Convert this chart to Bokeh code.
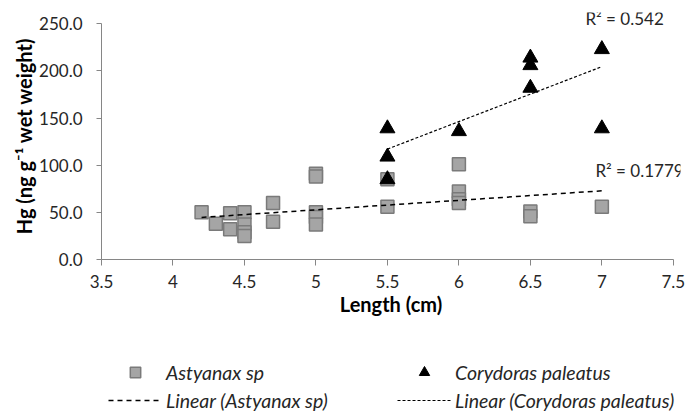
import numpy as np
from bokeh.plotting import figure
from bokeh.layouts import column
from bokeh.models import Legend, LegendItem, Label, FixedTicker, NumeralTickFormatter
from bokeh.embed import file_html
from bokeh.resources import INLINE

# ---- data ----
ast_x = [4.2, 4.3, 4.4, 4.4, 4.5, 4.5, 4.5, 4.5, 4.7, 4.7,
         5.0, 5.0, 5.0, 5.0, 5.0, 5.5, 5.5, 6.0, 6.0, 6.0, 6.0,
         6.5, 6.5, 7.0]
ast_y = [50, 38, 49, 32, 50, 37, 29, 25, 60, 40,
         91, 88, 50, 45, 37, 85, 56, 101, 72, 64, 60,
         51, 46, 56]
cor_x = [5.5, 5.5, 5.5, 6.0, 6.5, 6.5, 6.5, 7.0, 7.0]
cor_y = [139, 109, 85, 136, 214, 206, 182, 223, 139]
x_ticks = [3.5, 4, 4.5, 5, 5.5, 6, 6.5, 7, 7.5]
x_tick_labels = ["3.5", "4", "4.5", "5", "5.5", "6", "6.5", "7", "7.5"]
y_ticks = [0, 50, 100, 150, 200, 250]
r2_ast = "R\u00b2 = 0.1779"
r2_cor = "R\u00b2 = 0.542"

FONT = "Lato"
TXT = "#262626"
W = 687

p = figure(width=W, height=340, output_backend="svg", toolbar_location=None,
           x_range=(3.5, 7.55), y_range=(0, 262),
           min_border_left=101, min_border_right=7, min_border_top=12, min_border_bottom=81)
p.outline_line_color = None
p.xgrid.visible = False
p.ygrid.visible = False

for ax in (p.xaxis[0], p.yaxis[0]):
    ax.axis_line_color = "#868686"
    ax.major_tick_line_color = "#868686"
    ax.minor_tick_line_color = None
    ax.major_tick_in = 0
    ax.major_tick_out = 6
    ax.major_label_text_font = FONT
    ax.major_label_text_font_size = "17px"
    ax.major_label_text_color = TXT
    ax.axis_label_text_font = FONT
    ax.axis_label_text_font_size = "20px"
    ax.axis_label_text_font_style = "bold"
    ax.axis_label_text_color = "#000000"

p.xaxis.ticker = FixedTicker(ticks=x_ticks)
p.xaxis.major_label_overrides = {t: l for t, l in zip(x_ticks, x_tick_labels)}
p.xaxis.bounds = (x_ticks[0], x_ticks[-1])
p.xaxis.major_label_standoff = 9
p.xaxis.axis_label = "Length (cm)"
p.xaxis.axis_label_standoff = 1

p.yaxis.ticker = FixedTicker(ticks=y_ticks)
p.yaxis.formatter = NumeralTickFormatter(format="0.0")
p.yaxis.bounds = (y_ticks[0], y_ticks[-1])
p.yaxis.major_tick_out = 5
p.yaxis.major_label_standoff = 14
p.yaxis.axis_label = "Hg (ng g\u207b\u00b9 wet weight)"
p.yaxis.axis_label_standoff = 0


def fit(xs, ys):
    xs = np.asarray(xs, float)
    ys = np.asarray(ys, float)
    k, b = np.polyfit(xs, ys, 1)
    xx = np.array([xs.min(), xs.max()])
    return xx, k * xx + b


ax_x, ax_y = fit(ast_x, ast_y)
cx_x, cx_y = fit(cor_x, cor_y)

SQ = dict(marker="square", fill_color="#a5a5a5", line_color="#7a7a7a", line_width=1.5)
TR = dict(marker="triangle", fill_color="black", line_color="black")
LA = dict(line_color="black", line_width=1.5, line_dash="5 4")
LC = dict(line_color="black", line_width=1.2, line_dash="3 2")

p.scatter(ast_x, ast_y, size=13, **SQ)
p.scatter(cor_x, cor_y, size=15, **TR)
p.line(ax_x, ax_y, **LA)
p.line(cx_x, cx_y, **LC)

p.add_layout(Label(x=6.885, y=255.6, text=r2_cor, text_font=FONT, text_font_size="17px",
                   text_color=TXT, text_baseline="middle"))
p.add_layout(Label(x=6.955, y=94.4, text=r2_ast, text_font=FONT, text_font_size="17px",
                   text_color=TXT, text_baseline="middle"))

# ---- legend strip (separate figure below; its frame is aligned with the chart's frame) ----
q = figure(width=W, height=79, output_backend="svg", toolbar_location=None,
           x_range=(0, 1), y_range=(0, 1), x_axis_location=None, y_axis_location=None,
           min_border=0)
q.outline_line_color = None
q.xgrid.visible = False
q.ygrid.visible = False
q_sq = q.scatter(ast_x, ast_y, size=13, **SQ)
q_tr = q.scatter(cor_x, cor_y, size=15, **TR)
q_la = q.line(ax_x, ax_y, **LA)
q_lc = q.line(cx_x, cx_y, **LC)


def mk_legend(items, loc):
    return Legend(items=items, location=loc, orientation="vertical",
                  glyph_width=54, glyph_height=26, label_height=26,
                  spacing=2, padding=0, margin=0, label_standoff=4,
                  border_line_color=None, background_fill_alpha=0,
                  label_text_font=FONT, label_text_font_size="19.5px",
                  label_text_font_style="italic", label_text_color=TXT)


q.add_layout(mk_legend([LegendItem(label="Astyanax sp", renderers=[q_sq]),
                        LegendItem(label="Linear (Astyanax sp)", renderers=[q_la])], (7, 6)))
q.add_layout(mk_legend([LegendItem(label="Corydoras paleatus", renderers=[q_tr]),
                        LegendItem(label="Linear (Corydoras paleatus)", renderers=[q_lc])], (296, 6)))

layout = column(p, q, spacing=0)
open("out.html", "w").write(file_html(layout, INLINE))
